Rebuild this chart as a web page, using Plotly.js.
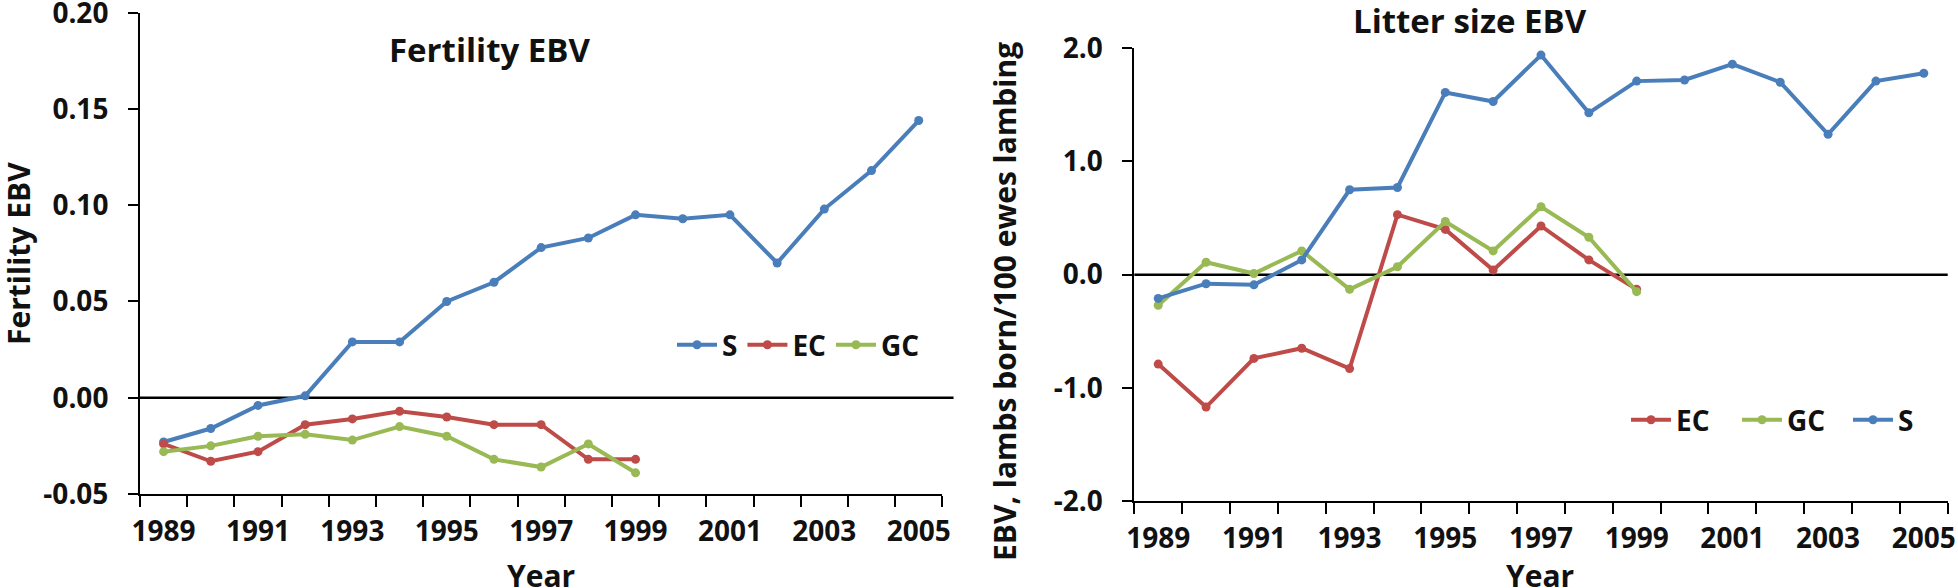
<!DOCTYPE html>
<html>
<head>
<meta charset="utf-8">
<script src="https://cdn.plot.ly/plotly-3.0.1.min.js"></script>
<style>html,body{margin:0;padding:0;background:#fff;}#chart{width:1958px;height:588px;}</style>
</head>
<body>
<div id="chart"></div>
<script>
// ---- data ----
const years = [1989,1990,1991,1992,1993,1994,1995,1996,1997,1998,1999,2000,2001,2002,2003,2004,2005];
const yearsShort = [1989,1990,1991,1992,1993,1994,1995,1996,1997,1998,1999];

const fertS  = [-0.023,-0.016,-0.004,0.001,0.029,0.029,0.050,0.060,0.078,0.083,0.095,0.093,0.095,0.070,0.098,0.118,0.144];
const fertEC = [-0.024,-0.033,-0.028,-0.014,-0.011,-0.007,-0.010,-0.014,-0.014,-0.032,-0.032];
const fertGC = [-0.028,-0.025,-0.020,-0.019,-0.022,-0.015,-0.020,-0.032,-0.036,-0.024,-0.039];

const litS  = [-0.21,-0.08,-0.09,0.13,0.75,0.77,1.61,1.53,1.94,1.43,1.71,1.72,1.86,1.70,1.24,1.71,1.78];
const litEC = [-0.79,-1.17,-0.74,-0.65,-0.83,0.53,0.40,0.04,0.43,0.13,-0.13];
const litGC = [-0.27,0.11,0.01,0.21,-0.13,0.07,0.47,0.21,0.60,0.33,-0.15];

const fertTicks = [-0.05,0,0.05,0.10,0.15,0.20];
const fertTickText = ["-0.05","0.00","0.05","0.10","0.15","0.20"];
const litTicks = [-2,-1,0,1,2];
const litTickText = ["-2.0","-1.0","0.0","1.0","2.0"];
const yearLabels = years.filter(y => y % 2 === 1);

// ---- style ----
const C_S = '#4a7ebb', C_EC = '#be4b48', C_GC = '#98b954';
const FONT = 'Open Sans, sans-serif';
const TXT = '#111111';
const tickFont = {family: FONT, size: 28, color: TXT, weight: 'bold'};

function tr(x, y, name, color, xa, ya, legend) {
  return {x: x, y: y, name: name, type: 'scatter', mode: 'lines+markers',
    line: {color: color, width: 4}, marker: {color: color, size: 9, symbol: 'circle'},
    xaxis: xa, yaxis: ya, legend: legend};
}

const data = [
  tr(years, fertS, 'S', C_S, 'x', 'y', 'legend'),
  tr(yearsShort, fertEC, 'EC', C_EC, 'x', 'y', 'legend'),
  tr(yearsShort, fertGC, 'GC', C_GC, 'x', 'y', 'legend'),
  tr(yearsShort, litEC, 'EC', C_EC, 'x2', 'y2', 'legend2'),
  tr(yearsShort, litGC, 'GC', C_GC, 'x2', 'y2', 'legend2'),
  tr(years, litS, 'S', C_S, 'x2', 'y2', 'legend2')
];

function xAxis(domain, anchor) {
  return {domain: domain, anchor: anchor, range: [years[0]-0.5, years[years.length-1]+0.5],
    showline: true, linecolor: '#000', linewidth: 2, showgrid: false, zeroline: false,
    tickmode: 'array', tickvals: yearLabels, ticktext: yearLabels.map(String),
    ticks: '', tickfont: tickFont, ticklabelstandoff: 11, ticklabeloverflow: 'allow',
    minor: {tick0: years[0]-0.5, dtick: 1, ticks: 'outside', ticklen: 11, tickwidth: 2, tickcolor: '#000', showgrid: false},
    fixedrange: true, automargin: false};
}
function yAxis(domain, anchor, range, tv, tt) {
  return {domain: domain, anchor: anchor, range: range,
    showline: true, linecolor: '#000', linewidth: 2, showgrid: false, zeroline: false,
    tickmode: 'array', tickvals: tv, ticktext: tt, ticks: 'outside', ticklen: 10, tickwidth: 2, tickcolor: '#000',
    tickfont: tickFont, ticklabelstandoff: 14, ticklabeloverflow: 'allow', fixedrange: true, automargin: false};
}

const W = 1958, H = 588;
const legFont = {family: FONT, size: 28, color: TXT, weight: 'bold'};
const layout = {
  width: W, height: H, margin: {l: 0, r: 0, t: 0, b: 0, autoexpand: false},
  paper_bgcolor: '#fff', plot_bgcolor: '#fff', showlegend: true,
  font: {family: FONT, color: TXT},
  xaxis: xAxis([140/W, 942.3/W], 'y'),
  yaxis: yAxis([(H-494)/H, (H-12.7)/H], 'x', [fertTicks[0], fertTicks[fertTicks.length-1]], fertTicks, fertTickText),
  xaxis2: xAxis([1134.3/W, 1947.7/W], 'y2'),
  yaxis2: yAxis([(H-501)/H, (H-48.3)/H], 'x2', [litTicks[0], litTicks[litTicks.length-1]], litTicks, litTickText),
  legend: {orientation: 'h', x: 672/W, xanchor: 'left', y: (H-345)/H, yanchor: 'middle',
    font: legFont, bgcolor: 'rgba(0,0,0,0)', itemwidth: 40},
  legend2: {orientation: 'h', x: 1626/W, xanchor: 'left', y: (H-420)/H, yanchor: 'middle',
    font: legFont, bgcolor: 'rgba(0,0,0,0)', itemwidth: 40, entrywidth: 56},
  shapes: [
    {type: 'line', xref: 'x domain', yref: 'y', x0: 0, x1: 1.014, y0: 0, y1: 0, line: {color: '#000', width: 2.5}, layer: 'below'},
    {type: 'line', xref: 'x2 domain', yref: 'y2', x0: 0, x1: 1, y0: 0, y1: 0, line: {color: '#000', width: 2.5}, layer: 'below'}
  ],
  annotations: [
    {text: 'Fertility EBV', xref: 'paper', yref: 'paper', x: 490/W, y: (H-50)/H, showarrow: false,
      font: {family: FONT, size: 33, color: TXT, weight: 'bold'}, xanchor: 'center', yanchor: 'middle'},
    {text: 'Litter size EBV', xref: 'paper', yref: 'paper', x: 1470/W, y: (H-21)/H, showarrow: false,
      font: {family: FONT, size: 33, color: TXT, weight: 'bold'}, xanchor: 'center', yanchor: 'middle'},
    {text: 'Fertility EBV', xref: 'paper', yref: 'paper', x: 18/W, y: (H-254)/H, showarrow: false, textangle: -90,
      font: {family: FONT, size: 30, color: TXT, weight: 'bold'}, xanchor: 'center', yanchor: 'middle'},
    {text: 'EBV, lambs born/100 ewes lambing', xref: 'paper', yref: 'paper', x: 1004/W, y: (H-302)/H, showarrow: false, textangle: -90,
      font: {family: FONT, size: 30, color: TXT, weight: 'bold'}, xanchor: 'center', yanchor: 'middle'},
    {text: 'Year', xref: 'paper', yref: 'paper', x: 541/W, y: (H-575)/H, showarrow: false,
      font: {family: FONT, size: 30, color: TXT, weight: 'bold'}, xanchor: 'center', yanchor: 'middle'},
    {text: 'Year', xref: 'paper', yref: 'paper', x: 1540/W, y: (H-575)/H, showarrow: false,
      font: {family: FONT, size: 30, color: TXT, weight: 'bold'}, xanchor: 'center', yanchor: 'middle'}
  ]
};

Plotly.newPlot('chart', data, layout, {displayModeBar: false, staticPlot: true});
</script>
</body>
</html>
